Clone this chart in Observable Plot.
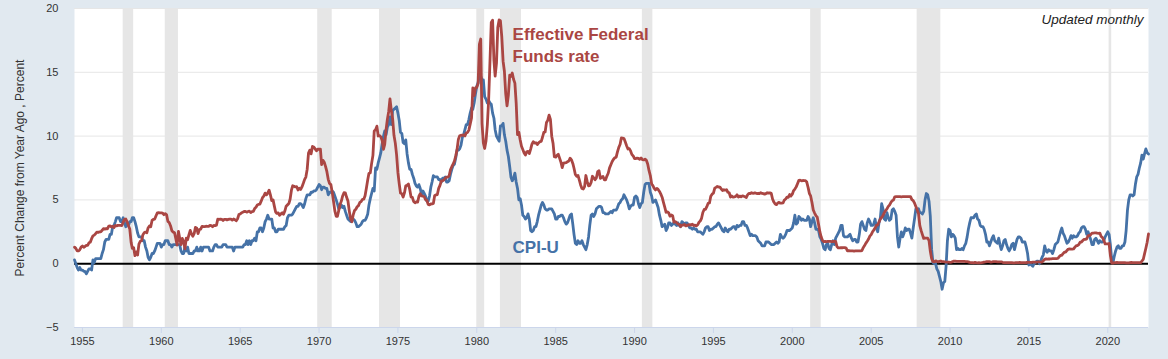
<!DOCTYPE html>
<html><head><meta charset="utf-8">
<script src="https://cdn.jsdelivr.net/npm/d3@7"></script>
<script src="https://cdn.jsdelivr.net/npm/@observablehq/plot@0.6"></script>
<style>
html,body{margin:0;padding:0;background:#e1e9f0;}
#chart{width:1168px;height:359px;}
</style></head><body><div id="chart"></div>
<script>
// Monthly series, first value = July 1954
const seriesStart = "1954-07-01";
const domainEnd = "2022-08-01";

// CPI-U, percent change from year ago
const cpiValues = [
  0.3, 0.0, -0.3, -0.5, -0.3, -0.5,
  -0.5, -0.6, -0.6, -0.8, -0.6, -0.4, -0.4, -0.5, 0.3, 0.1, 0.4, 0.4,
  0.4, 0.4, 0.4, 0.8, 1.1, 1.7, 1.9, 1.9, 1.9, 2.3, 2.3, 2.9,
  3.0, 3.3, 3.6, 3.6, 3.6, 3.3, 3.3, 3.6, 3.2, 2.9, 3.2, 3.0,
  3.3, 3.3, 3.6, 3.6, 3.3, 2.9, 2.4, 2.1, 2.1, 2.1, 1.8, 1.8,
  1.3, 1.0, 0.5, 0.3, 0.5, 0.8, 0.8, 1.0, 1.3, 1.6, 1.6, 1.6,
  1.3, 1.5, 1.5, 1.8, 1.8, 1.8, 1.5, 1.5, 1.3, 1.5, 1.5, 1.5,
  1.5, 1.5, 1.5, 1.0, 0.8, 0.8, 1.3, 1.0, 1.3, 0.8, 0.8, 0.8,
  0.8, 1.0, 1.0, 1.3, 1.0, 1.0, 1.3, 1.0, 1.3, 1.3, 1.3, 1.3,
  1.3, 1.0, 1.0, 1.0, 1.3, 1.5, 1.5, 1.3, 1.3, 1.3, 1.3, 1.5,
  1.5, 1.5, 1.3, 1.3, 1.3, 1.3, 1.3, 1.0, 1.3, 1.3, 1.3, 1.3,
  1.3, 1.3, 1.3, 1.5, 1.5, 1.8, 1.5, 1.8, 1.5, 1.8, 1.8, 2.0,
  1.8, 2.5, 2.5, 2.8, 2.8, 2.5, 2.8, 3.3, 3.5, 3.8, 3.5, 3.5,
  3.5, 2.8, 2.8, 2.5, 2.5, 2.7, 2.7, 2.7, 2.7, 2.7, 2.9, 3.0,
  3.6, 3.8, 3.8, 3.8, 3.9, 4.1, 4.3, 4.5, 4.5, 4.7, 4.7, 4.6,
  4.4, 4.7, 5.1, 5.4, 5.4, 5.4, 5.6, 5.6, 5.7, 5.7, 5.8, 6.0,
  6.2, 6.1, 5.8, 6.0, 6.0, 5.9, 5.9, 5.4, 5.6, 5.6, 5.7, 5.6,
  5.3, 5.0, 4.7, 4.3, 4.4, 4.6, 4.4, 4.5, 4.1, 3.8, 3.5, 3.4,
  3.3, 3.5, 3.5, 3.4, 3.2, 2.9, 2.9, 3.0, 3.1, 3.3, 3.4, 3.4,
  3.6, 3.9, 4.6, 5.1, 5.5, 5.9, 5.7, 7.5, 7.4, 7.9, 8.3, 8.7,
  9.4, 10.0, 10.4, 10.1, 10.7, 10.9, 11.5, 10.9, 12.0, 12.1, 12.2, 12.3,
  11.8, 11.2, 10.3, 10.2, 9.5, 9.4, 9.7, 8.6, 7.9, 7.4, 7.4, 7.0,
  6.7, 6.3, 6.1, 6.0, 6.2, 5.9, 5.4, 5.7, 5.5, 5.3, 4.9, 4.9,
  5.3, 6.0, 6.4, 6.9, 6.8, 6.8, 6.8, 6.6, 6.6, 6.4, 6.7, 6.7,
  6.8, 6.4, 6.4, 6.5, 7.0, 7.4, 7.7, 7.8, 8.3, 8.9, 8.9, 9.0,
  9.3, 9.9, 10.1, 10.5, 10.9, 10.9, 11.3, 11.8, 12.2, 12.1, 12.6, 13.3,
  13.9, 14.2, 14.8, 14.7, 14.4, 14.4, 13.1, 12.9, 12.6, 12.8, 12.6, 12.5,
  11.8, 11.4, 10.5, 10.0, 9.8, 9.6, 10.8, 10.8, 11.0, 10.1, 9.6, 8.9,
  8.4, 7.6, 6.8, 6.5, 6.7, 7.1, 6.4, 5.9, 5.0, 5.1, 4.6, 3.8,
  3.7, 3.5, 3.6, 3.9, 3.5, 2.6, 2.5, 2.6, 2.9, 2.9, 3.3, 3.8,
  4.2, 4.6, 4.8, 4.6, 4.3, 4.2, 4.2, 4.3, 4.3, 4.3, 4.1, 3.9,
  3.5, 3.5, 3.7, 3.7, 3.8, 3.8, 3.6, 3.3, 3.1, 3.2, 3.5, 3.8,
  3.9, 3.1, 2.3, 1.6, 1.5, 1.8, 1.6, 1.6, 1.8, 1.5, 1.3, 1.1,
  1.5, 2.1, 3.0, 3.8, 3.9, 3.7, 3.9, 4.3, 4.4, 4.5, 4.5, 4.4,
  4.0, 4.0, 3.9, 3.9, 3.9, 4.0, 4.1, 4.0, 4.2, 4.2, 4.2, 4.4,
  4.7, 4.8, 5.0, 5.1, 5.4, 5.2, 5.0, 4.7, 4.3, 4.5, 4.6, 4.6,
  5.2, 5.3, 5.2, 4.7, 4.4, 4.7, 4.8, 5.6, 6.2, 6.3, 6.3, 6.3,
  5.6, 5.3, 4.8, 4.9, 5.0, 4.7, 4.4, 3.8, 3.4, 2.9, 3.0, 3.1,
  2.6, 2.8, 3.2, 3.2, 3.0, 3.1, 3.2, 3.1, 3.0, 3.2, 3.0, 2.9,
  3.3, 3.2, 3.1, 3.2, 3.2, 3.0, 2.8, 2.8, 2.7, 2.8, 2.7, 2.7,
  2.5, 2.5, 2.5, 2.4, 2.3, 2.5, 2.8, 2.9, 2.9, 2.6, 2.7, 2.7,
  2.8, 2.9, 2.9, 3.1, 3.2, 3.0, 2.8, 2.6, 2.5, 2.8, 2.6, 2.5,
  2.7, 2.7, 2.8, 2.9, 2.9, 2.7, 3.0, 2.9, 3.0, 3.0, 3.3, 3.3,
  3.0, 3.0, 2.8, 2.5, 2.2, 2.3, 2.2, 2.2, 2.2, 2.1, 1.8, 1.7,
  1.6, 1.4, 1.4, 1.4, 1.7, 1.7, 1.7, 1.6, 1.5, 1.5, 1.5, 1.6,
  1.7, 1.6, 1.7, 2.3, 2.1, 2.0, 2.1, 2.3, 2.6, 2.6, 2.6, 2.7,
  2.8, 3.2, 3.8, 3.1, 3.2, 3.7, 3.6, 3.4, 3.5, 3.4, 3.4, 3.4,
  3.7, 3.5, 2.9, 3.3, 3.6, 3.2, 2.7, 2.7, 2.6, 2.1, 1.9, 1.6,
  1.2, 1.1, 1.5, 1.6, 1.2, 1.1, 1.5, 1.8, 1.5, 2.0, 2.2, 2.4,
  2.6, 3.0, 3.0, 2.2, 2.1, 2.1, 2.1, 2.2, 2.3, 2.0, 1.8, 1.9,
  1.9, 1.7, 1.7, 2.3, 3.1, 3.3, 3.0, 2.7, 2.6, 3.2, 3.5, 3.3,
  3.0, 3.0, 3.1, 3.5, 2.8, 2.5, 3.2, 3.6, 4.7, 4.3, 3.5, 3.4,
  4.0, 3.6, 3.4, 3.5, 4.2, 4.3, 4.1, 3.8, 2.1, 1.3, 2.0, 2.5,
  2.1, 2.4, 2.8, 2.6, 2.7, 2.7, 2.4, 2.0, 2.8, 3.5, 4.3, 4.1,
  4.3, 4.0, 4.0, 3.9, 4.1, 5.0, 5.5, 5.4, 4.9, 3.7, 1.1, 0.1,
  0.0, 0.0, -0.4, -0.6, -1.0, -1.4, -2.0, -1.5, -1.4, -0.2, 1.8, 2.7,
  2.6, 2.1, 2.3, 2.2, 2.0, 1.1, 1.2, 1.1, 1.1, 1.2, 1.1, 1.4,
  1.6, 2.1, 2.7, 3.2, 3.6, 3.6, 3.6, 3.8, 3.9, 3.5, 3.4, 3.0,
  2.9, 2.9, 2.7, 2.3, 1.7, 1.7, 1.4, 1.7, 2.0, 2.2, 1.8, 1.7,
  1.6, 2.0, 1.5, 1.1, 1.4, 1.8, 1.9, 1.5, 1.2, 1.0, 1.2, 1.5,
  1.6, 1.1, 1.5, 1.9, 2.1, 2.1, 2.0, 1.7, 1.7, 1.7, 1.3, 0.8,
  -0.1, 0.0, -0.1, -0.2, 0.0, 0.1, 0.2, 0.2, 0.0, 0.2, 0.5, 0.7,
  1.4, 1.0, 0.9, 1.1, 1.0, 1.0, 0.8, 1.1, 1.5, 1.6, 1.7, 2.1,
  2.5, 2.8, 2.4, 2.2, 1.9, 1.6, 1.7, 1.9, 2.2, 2.0, 2.2, 2.1,
  2.1, 2.2, 2.4, 2.5, 2.8, 2.9, 2.9, 2.7, 2.3, 2.5, 2.2, 1.9,
  1.5, 1.5, 1.9, 2.0, 1.8, 1.6, 1.8, 1.7, 1.7, 1.8, 2.1, 2.3,
  2.5, 2.3, 1.5, 0.3, 0.1, 0.6, 1.0, 1.3, 1.4, 1.2, 1.2, 1.4,
  1.4, 1.7, 2.6, 4.2, 5.0, 5.4, 5.4, 5.3, 5.4, 6.2, 6.8, 7.0,
  7.5, 7.9, 8.5, 8.2, 8.6, 9.0, 8.7, 8.6
];

// Effective Federal Funds rate, percent
const ffValues = [
  1.3, 1.2, 1.0, 1.0, 1.1, 1.3,
  1.39, 1.29, 1.35, 1.43, 1.43, 1.64, 1.68, 1.96, 2.18, 2.24, 2.35, 2.48,
  2.45, 2.50, 2.50, 2.62, 2.75, 2.71, 2.75, 2.73, 2.95, 2.96, 2.88, 2.94,
  2.84, 3.00, 2.96, 3.00, 3.00, 3.00, 2.99, 3.24, 3.47, 3.50, 3.28, 2.98,
  2.72, 1.67, 1.20, 1.26, 0.63, 0.93, 0.68, 1.53, 1.76, 1.80, 2.27, 2.42,
  2.48, 2.43, 2.80, 2.96, 2.90, 3.39, 3.47, 3.50, 3.76, 3.98, 4.00, 3.99,
  3.99, 3.97, 3.84, 3.92, 3.85, 3.32, 3.23, 2.98, 2.60, 2.47, 2.44, 1.98,
  1.45, 2.54, 2.02, 1.49, 1.98, 1.73, 1.17, 2.00, 1.88, 2.26, 2.61, 2.33,
  2.15, 2.37, 2.85, 2.78, 2.36, 2.68, 2.71, 2.93, 2.90, 2.90, 2.94, 2.93,
  2.92, 3.00, 2.98, 2.90, 3.00, 2.99, 3.02, 3.49, 3.48, 3.50, 3.48, 3.38,
  3.48, 3.48, 3.43, 3.47, 3.50, 3.50, 3.42, 3.50, 3.45, 3.36, 3.52, 3.85,
  3.90, 3.98, 4.04, 4.09, 4.10, 4.04, 4.09, 4.12, 4.01, 4.08, 4.10, 4.32,
  4.42, 4.60, 4.65, 4.67, 4.90, 5.17, 5.30, 5.53, 5.40, 5.53, 5.76, 5.40,
  4.94, 5.00, 4.53, 4.05, 3.94, 3.98, 3.79, 3.90, 3.99, 3.88, 4.13, 4.51,
  4.61, 4.71, 5.05, 5.76, 6.11, 6.07, 6.02, 6.03, 5.78, 5.91, 5.82, 6.02,
  6.30, 6.61, 6.79, 7.41, 8.67, 8.90, 8.61, 9.19, 9.15, 9.00, 8.85, 8.97,
  8.98, 8.98, 7.76, 8.10, 7.95, 7.61, 7.21, 6.61, 6.29, 6.20, 5.60, 4.90,
  4.14, 3.72, 3.71, 4.16, 4.63, 4.91, 5.31, 5.56, 5.55, 5.20, 4.91, 4.14,
  3.50, 3.29, 3.83, 4.17, 4.27, 4.46, 4.55, 4.80, 4.87, 5.04, 5.06, 5.33,
  5.94, 6.58, 7.09, 7.12, 7.84, 8.49, 10.40, 10.50, 10.78, 10.01, 10.03, 9.95,
  9.65, 8.97, 9.35, 10.51, 11.31, 11.93, 12.92, 12.01, 11.34, 10.06, 9.45, 8.53,
  7.13, 6.24, 5.54, 5.49, 5.22, 5.55, 6.10, 6.14, 6.24, 5.82, 5.22, 5.20,
  4.87, 4.77, 4.84, 4.82, 5.29, 5.48, 5.31, 5.29, 5.25, 5.02, 4.95, 4.65,
  4.61, 4.68, 4.69, 4.73, 5.35, 5.39, 5.42, 5.90, 6.14, 6.47, 6.51, 6.56,
  6.70, 6.78, 6.79, 6.89, 7.36, 7.60, 7.81, 8.04, 8.45, 8.96, 9.76, 10.03,
  10.07, 10.06, 10.09, 10.01, 10.24, 10.29, 10.47, 10.94, 11.43, 13.77, 13.18, 13.78,
  13.82, 14.13, 17.19, 17.61, 10.98, 9.47, 9.03, 9.61, 10.87, 12.81, 15.85, 18.90,
  19.08, 15.93, 14.70, 15.72, 18.52, 19.10, 19.04, 17.82, 15.87, 15.08, 13.31, 12.37,
  13.22, 14.78, 14.68, 14.94, 14.45, 14.15, 12.59, 10.12, 10.31, 9.71, 9.20, 8.95,
  8.68, 8.51, 8.77, 8.80, 8.63, 8.98, 9.37, 9.56, 9.45, 9.48, 9.34, 9.47,
  9.56, 9.59, 9.91, 10.29, 10.32, 11.06, 11.23, 11.64, 11.30, 9.99, 9.43, 8.38,
  8.35, 8.50, 8.58, 8.27, 7.97, 7.53, 7.88, 7.90, 7.92, 7.99, 8.05, 8.27,
  8.14, 7.86, 7.48, 6.99, 6.85, 6.92, 6.56, 6.17, 5.89, 5.85, 6.04, 6.91,
  6.43, 6.10, 6.13, 6.37, 6.85, 6.73, 6.58, 6.73, 7.22, 7.29, 6.69, 6.77,
  6.83, 6.58, 6.58, 6.87, 7.09, 7.51, 7.75, 8.01, 8.19, 8.30, 8.35, 8.76,
  9.12, 9.36, 9.85, 9.84, 9.81, 9.53, 9.24, 8.99, 9.02, 8.84, 8.55, 8.45,
  8.23, 8.24, 8.28, 8.26, 8.18, 8.29, 8.15, 8.13, 8.20, 8.11, 7.81, 7.31,
  6.91, 6.25, 6.12, 5.91, 5.78, 5.90, 5.82, 5.66, 5.45, 5.21, 4.81, 4.43,
  4.03, 4.06, 3.98, 3.73, 3.82, 3.76, 3.25, 3.30, 3.22, 3.10, 3.09, 2.92,
  3.02, 3.03, 3.07, 2.96, 3.00, 3.04, 3.06, 3.03, 3.09, 2.99, 3.02, 2.96,
  3.05, 3.25, 3.34, 3.56, 4.01, 4.25, 4.26, 4.47, 4.73, 4.76, 5.29, 5.45,
  5.53, 5.92, 5.98, 6.05, 6.01, 6.00, 5.85, 5.74, 5.80, 5.76, 5.80, 5.60,
  5.56, 5.22, 5.31, 5.22, 5.24, 5.27, 5.40, 5.22, 5.30, 5.24, 5.31, 5.29,
  5.25, 5.19, 5.39, 5.51, 5.50, 5.56, 5.52, 5.54, 5.54, 5.50, 5.52, 5.50,
  5.56, 5.51, 5.49, 5.45, 5.49, 5.56, 5.54, 5.55, 5.51, 5.07, 4.83, 4.68,
  4.63, 4.76, 4.81, 4.74, 4.74, 4.76, 4.99, 5.07, 5.22, 5.20, 5.42, 5.30,
  5.45, 5.73, 5.85, 6.02, 6.27, 6.53, 6.54, 6.50, 6.52, 6.51, 6.51, 6.40,
  5.98, 5.49, 5.31, 4.80, 4.21, 3.97, 3.77, 3.65, 3.07, 2.49, 2.09, 1.82,
  1.73, 1.74, 1.73, 1.75, 1.75, 1.75, 1.73, 1.74, 1.75, 1.75, 1.34, 1.24,
  1.24, 1.26, 1.25, 1.26, 1.26, 1.22, 1.01, 1.03, 1.01, 1.01, 1.00, 0.98,
  1.00, 1.01, 1.00, 1.00, 1.00, 1.03, 1.26, 1.43, 1.61, 1.76, 1.93, 2.16,
  2.28, 2.50, 2.63, 2.79, 3.00, 3.04, 3.26, 3.50, 3.62, 3.78, 4.00, 4.16,
  4.29, 4.49, 4.59, 4.79, 4.94, 4.99, 5.24, 5.25, 5.25, 5.25, 5.25, 5.24,
  5.25, 5.26, 5.26, 5.25, 5.25, 5.25, 5.26, 5.02, 4.94, 4.76, 4.49, 4.24,
  3.94, 2.98, 2.61, 2.28, 1.98, 2.00, 2.01, 2.00, 1.81, 0.97, 0.39, 0.16,
  0.15, 0.22, 0.18, 0.15, 0.18, 0.21, 0.16, 0.16, 0.15, 0.12, 0.12, 0.12,
  0.11, 0.13, 0.16, 0.20, 0.20, 0.18, 0.18, 0.19, 0.19, 0.19, 0.19, 0.18,
  0.17, 0.16, 0.14, 0.10, 0.09, 0.09, 0.07, 0.10, 0.08, 0.07, 0.08, 0.07,
  0.08, 0.10, 0.13, 0.14, 0.16, 0.16, 0.16, 0.13, 0.14, 0.16, 0.16, 0.16,
  0.14, 0.15, 0.14, 0.15, 0.11, 0.09, 0.09, 0.08, 0.08, 0.09, 0.08, 0.09,
  0.07, 0.07, 0.08, 0.09, 0.09, 0.10, 0.09, 0.09, 0.09, 0.09, 0.09, 0.12,
  0.11, 0.11, 0.11, 0.12, 0.12, 0.13, 0.13, 0.14, 0.14, 0.12, 0.12, 0.24,
  0.34, 0.38, 0.36, 0.37, 0.37, 0.38, 0.39, 0.40, 0.40, 0.40, 0.41, 0.54,
  0.65, 0.66, 0.79, 0.90, 0.91, 1.04, 1.15, 1.16, 1.15, 1.15, 1.16, 1.30,
  1.41, 1.42, 1.51, 1.69, 1.70, 1.82, 1.91, 1.91, 1.95, 2.19, 2.20, 2.27,
  2.40, 2.40, 2.41, 2.42, 2.39, 2.38, 2.40, 2.13, 2.04, 1.83, 1.55, 1.55,
  1.55, 1.58, 0.65, 0.05, 0.05, 0.08, 0.09, 0.10, 0.09, 0.09, 0.09, 0.09,
  0.09, 0.08, 0.07, 0.07, 0.06, 0.08, 0.10, 0.09, 0.08, 0.08, 0.08, 0.08,
  0.08, 0.08, 0.20, 0.33, 0.77, 1.21, 1.68, 2.33
];

// NBER recessions (peak month, trough month)
const recessionStarts = ["1957-08-01","1960-04-01","1969-12-01","1973-11-01","1980-01-01","1981-07-01","1990-07-01","2001-03-01","2007-12-01","2020-02-01"];
const recessionEnds   = ["1958-04-01","1961-02-01","1970-11-01","1975-03-01","1980-07-01","1982-11-01","1991-03-01","2001-11-01","2009-06-01","2020-04-01"];

const xTickYears = [1955,1960,1965,1970,1975,1980,1985,1990,1995,2000,2005,2010,2015,2020];
const yTicks = [-5, 0, 5, 10, 15, 20];
const yGrid = [5, 10, 15, 20];
const yLabel = "Percent Change from Year Ago , Percent";
const ffLabel = "Effective Federal\nFunds rate";
const cpiLabel = "CPI-U";
const noteLabel = "Updated monthly";

const start = new Date(seriesStart + "T00:00:00Z");
const rows = vals => vals.map((v, i) => ({date: d3.utcMonth.offset(start, i), value: v}));
const cpi = rows(cpiValues);
const ff = rows(ffValues);
const recessions = recessionStarts.map((s, i) => ({start: new Date(s + "T00:00:00Z"), end: new Date(recessionEnds[i] + "T00:00:00Z")}));
const xTicks = xTickYears.map(y => new Date(Date.UTC(y, 0, 1)));

const BLUE = "#4572a7", RED = "#aa4643";
const FONT = "'Liberation Sans', Arial, Helvetica, sans-serif";

const chart = Plot.plot({
  width: 1168,
  height: 359,
  marginLeft: 74,
  marginRight: 20,
  marginTop: 8,
  marginBottom: 32,
  style: {background: "transparent", fontFamily: FONT, overflow: "visible"},
  x: {type: "utc", domain: [start, new Date(domainEnd + "T00:00:00Z")], axis: null},
  y: {domain: [-5, 20], axis: null},
  marks: [
    Plot.frame({fill: "white", stroke: null}),
    Plot.ruleY(yGrid, {stroke: "#e6e6e6", strokeWidth: 1}),
    Plot.rect(recessions, {x1: "start", x2: "end", fill: "#e6e6e6"}),
    Plot.ruleY([-5], {stroke: "#ccd6eb", strokeWidth: 1}),
    Plot.ruleY([0], {stroke: "#000", strokeWidth: 2}),
    Plot.line(cpi, {x: "date", y: "value", stroke: BLUE, strokeWidth: 2.8, strokeLinejoin: "round"}),
    Plot.line(ff, {x: "date", y: "value", stroke: RED, strokeWidth: 2.8, strokeLinejoin: "round"}),
    Plot.text([{label: ffLabel, date: new Date(Date.UTC(1982, 3, 8)), value: 18.75}], {
      x: "date", y: "value", text: "label", textAnchor: "start", lineAnchor: "top",
      lineHeight: 1.3, fontSize: 17, fontWeight: "bold", fill: RED
    }),
    Plot.text([{label: cpiLabel, date: new Date(Date.UTC(1982, 3, 8)), value: 1.75}], {
      x: "date", y: "value", text: "label", textAnchor: "start", lineAnchor: "top",
      fontSize: 17, fontWeight: "bold", fill: BLUE
    }),
    Plot.text([noteLabel], {
      frameAnchor: "top-right", textAnchor: "end", lineAnchor: "top",
      dx: -5, dy: 6, fontSize: 13.5, fontStyle: "italic", fill: "#222"
    }),
    Plot.text([yLabel], {
      frameAnchor: "left", dx: -54, rotate: -90, textAnchor: "middle",
      lineAnchor: "middle", fontSize: 12, fill: "#333"
    }),
    Plot.axisX(xTicks, {
      anchor: "bottom", tickFormat: d => String(d.getUTCFullYear()), tickSize: 6,
      tickPadding: 4, stroke: "#ccd6eb", fill: "#333", fontSize: 11, label: null
    }),
    Plot.axisY(yTicks, {
      anchor: "left", tickSize: 0, tickPadding: 16, fill: "#333", fontSize: 11, label: null
    })
  ]
});
document.getElementById("chart").appendChild(chart);
</script>
</body></html>
